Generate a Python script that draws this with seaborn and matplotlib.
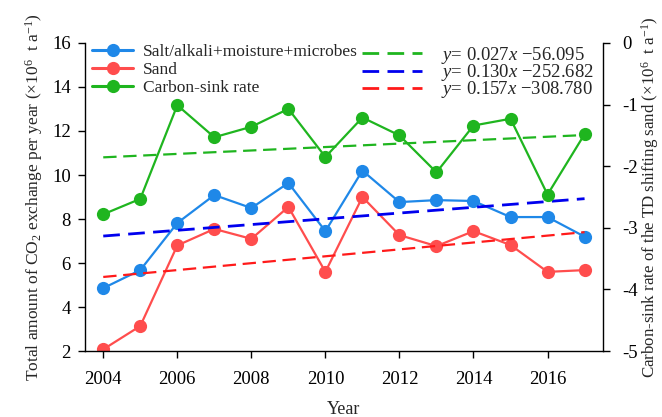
import numpy as np
import pandas as pd
import matplotlib
matplotlib.use("Agg")
import matplotlib.pyplot as plt
import seaborn as sns
from matplotlib.lines import Line2D

years = [2004, 2005, 2006, 2007, 2008, 2009, 2010, 2011, 2012, 2013, 2014, 2015, 2016, 2017]
salt = [4.86, 5.68, 7.82, 9.09, 8.50, 9.64, 7.45, 10.20, 8.77, 8.86, 8.82, 8.09, 8.09, 7.20]
sand = [2.08, 3.14, 6.80, 7.55, 7.10, 8.55, 5.60, 9.00, 7.27, 6.77, 7.45, 6.82, 5.60, 5.68]
sink = [-2.78, -2.53, -1.01, -1.53, -1.36, -1.07, -1.85, -1.21, -1.50, -2.10, -1.34, -1.23, -2.46, -1.48]
series_labels = ["Salt/alkali+moisture+microbes", "Sand", "Carbon-sink rate"]
eq_labels = ["$y$= 0.027$x$ \u221256.095", "$y$= 0.130$x$ \u2212252.682", "$y$= 0.157$x$ \u2212308.780"]
xticks = [2004, 2006, 2008, 2010, 2012, 2014, 2016]
yticks_left = [2, 4, 6, 8, 10, 12, 14, 16]
yticks_right = [0, -1, -2, -3, -4, -5]

df = pd.DataFrame({"Year": years, "salt": salt, "sand": sand, "sink": sink})

sns.set_style("ticks")
plt.rcParams["font.family"] = ["Liberation Serif", "DejaVu Serif"]
plt.rcParams["mathtext.fontset"] = "custom"
plt.rcParams["mathtext.rm"] = "Liberation Serif"
plt.rcParams["mathtext.it"] = "Liberation Serif:italic"
plt.rcParams["axes.unicode_minus"] = False

c_blue = "#1f88e8"
c_red = "#ff4d4d"
c_green = "#1fb51f"

fig = plt.figure(figsize=(6.62, 4.17), dpi=100)
ax = fig.add_axes([0.128, 0.158, 0.783, 0.739])
ax2 = ax.twinx()

mk = dict(marker="o", markersize=9.5, linewidth=1.6, markeredgewidth=0)
sns.lineplot(data=df, x="Year", y="salt", ax=ax, color=c_blue, label=series_labels[0], **mk)
sns.lineplot(data=df, x="Year", y="sand", ax=ax, color=c_red, label=series_labels[1], **mk)
sns.lineplot(data=df, x="Year", y="sink", ax=ax2, color=c_green, label=series_labels[2], **mk)

sns.regplot(data=df, x="Year", y="salt", ax=ax, scatter=False, ci=None, color="#0000ee",
            line_kws=dict(linestyle=(0, (6, 3)), linewidth=2.0))
sns.regplot(data=df, x="Year", y="sand", ax=ax, scatter=False, ci=None, color="#ff1a1a",
            line_kws=dict(linestyle=(0, (6, 3)), linewidth=1.6))
sns.regplot(data=df, x="Year", y="sink", ax=ax2, scatter=False, ci=None, color=c_green,
            line_kws=dict(linestyle=(0, (6, 3)), linewidth=1.6))

ax.set_xlim(2003.5, 2017.5)
ax.set_ylim(2, 16)
ax2.set_ylim(-5, 0)
ax.set_xticks(xticks)
ax.set_yticks(yticks_left)
ax2.set_yticks(yticks_right)
ax2.set_yticklabels([str(v) for v in yticks_right])

for a in (ax, ax2):
    a.spines["top"].set_visible(False)
    a.tick_params(direction="out", length=5, width=1, labelsize=13.5, colors="black")
    for s in a.spines.values():
        s.set_linewidth(1)
        s.set_color("black")
ax.spines["right"].set_visible(False)
ax2.spines["left"].set_visible(False)
ax2.spines["bottom"].set_visible(False)
ax.tick_params(axis="x", pad=9)
ax.tick_params(axis="y", pad=5)
ax2.tick_params(axis="y", pad=9)

ax.set_xlabel("Year", fontsize=13, labelpad=10)
ax.set_ylabel("Total amount of CO$_2$ exchange per year (\u00d710$^6$  t a$^{-1}$)", fontsize=12.5, labelpad=5)
ax2.set_ylabel("Carbon-sink rate of the TD shifting sand (\u00d710$^6$  t a$^{-1}$)", fontsize=12.2, labelpad=1)

ax.get_legend().remove() if ax.get_legend() else None
ax2.get_legend().remove() if ax2.get_legend() else None

h1 = [Line2D([], [], color=c, marker="o", markersize=9.5, linewidth=2.2, markeredgewidth=0)
      for c in (c_blue, c_red, c_green)]
leg1 = ax2.legend(h1, series_labels, loc="upper left", bbox_to_anchor=(0.0, 1.02), frameon=False,
                  fontsize=12.5, handlelength=2.4, handletextpad=0.55, labelspacing=0.1, borderaxespad=0)
ax2.add_artist(leg1)
h2 = [Line2D([], [], color=c, linestyle=(0, (6, 3)), linewidth=2.0)
      for c in (c_green, "#0000ee", "#ff1a1a")]
leg2 = ax2.legend(h2, eq_labels, loc="upper left", bbox_to_anchor=(0.52, 1.018), frameon=False,
                  fontsize=13.5, handlelength=3.2, handletextpad=1.0, labelspacing=-0.2, borderaxespad=0)

fig.savefig("out.png", dpi=100)
